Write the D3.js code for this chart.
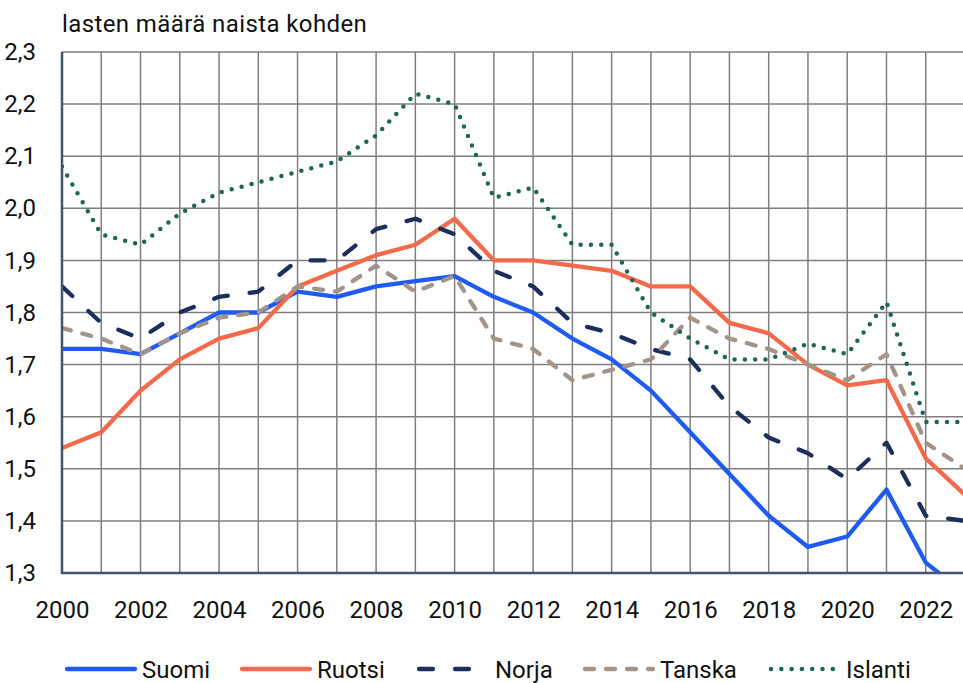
<!DOCTYPE html>
<html>
<head>
<meta charset="utf-8">
<script src="https://cdn.jsdelivr.net/npm/d3@7"></script>
<style>
  html, body { margin: 0; padding: 0; background: #fff; }
  svg { display: block; font-family: Roboto, "Noto Sans", sans-serif; }
</style>
</head>
<body>
<svg id="chart" width="963" height="683"></svg>
<script>
const years = [2000,2001,2002,2003,2004,2005,2006,2007,2008,2009,2010,2011,2012,2013,2014,2015,2016,2017,2018,2019,2020,2021,2022,2023];
const suomi   = [1.73,1.73,1.72,1.76,1.80,1.80,1.84,1.83,1.85,1.86,1.87,1.83,1.80,1.75,1.71,1.65,1.57,1.49,1.41,1.35,1.37,1.46,1.32,1.26];
const ruotsi  = [1.54,1.57,1.65,1.71,1.75,1.77,1.85,1.88,1.91,1.93,1.98,1.90,1.90,1.89,1.88,1.85,1.85,1.78,1.76,1.70,1.66,1.67,1.52,1.45];
const norja   = [1.85,1.78,1.75,1.80,1.83,1.84,1.90,1.90,1.96,1.98,1.95,1.88,1.85,1.78,1.76,1.73,1.71,1.62,1.56,1.53,1.48,1.55,1.41,1.40];
const tanska  = [1.77,1.75,1.72,1.76,1.79,1.80,1.85,1.84,1.89,1.84,1.87,1.75,1.73,1.67,1.69,1.71,1.79,1.75,1.73,1.70,1.67,1.72,1.55,1.50];
const islanti = [2.08,1.95,1.93,1.99,2.03,2.05,2.07,2.09,2.14,2.22,2.20,2.02,2.04,1.93,1.93,1.80,1.75,1.71,1.71,1.74,1.72,1.82,1.59,1.59];
const seriesNames = ["Suomi","Ruotsi","Norja","Tanska","Islanti"];
const xTickYears = [2000,2002,2004,2006,2008,2010,2012,2014,2016,2018,2020,2022];
const yTicks = [1.3,1.4,1.5,1.6,1.7,1.8,1.9,2.0,2.1,2.2,2.3];
const title = "lasten määrä naista kohden";

const styles = {
  "Suomi":   {color:"#1f5af2", dash:null, w:4.3},
  "Ruotsi":  {color:"#f3694c", dash:null, w:4.3},
  "Norja":   {color:"#1b2e5c", dash:"14,22", w:4.3},
  "Tanska":  {color:"#a39489", dash:"9,12", w:4.3},
  "Islanti": {color:"#1e6457", dash:"0,10.3", w:4.5}
};
const data = {"Suomi":suomi,"Ruotsi":ruotsi,"Norja":norja,"Tanska":tanska,"Islanti":islanti};

const svg = d3.select("#chart");
const x = d3.scaleLinear().domain([2000, 2023]).range([62, 965]);
const y = d3.scaleLinear().domain([1.3, 2.3]).range([573, 52]);

// grid
const grid = svg.append("g");
grid.selectAll("line.v").data(years).join("line")
  .attr("x1", d => x(d)).attr("x2", d => x(d))
  .attr("y1", y(2.3)).attr("y2", y(1.3))
  .attr("stroke", "#7f7f7f").attr("stroke-width", 1.5);
grid.selectAll("line.h").data(yTicks).join("line")
  .attr("x1", x(2000)).attr("x2", x(2023))
  .attr("y1", d => y(d)).attr("y2", d => y(d))
  .attr("stroke", "#7f7f7f").attr("stroke-width", 1.5);

// axes
const xAxis = d3.axisBottom(x).tickValues(xTickYears).tickFormat(d3.format("d")).tickSize(0).tickPadding(28);
const gx = svg.append("g").attr("transform", `translate(0,${y(1.3)})`).call(xAxis);
gx.select(".domain").remove();
gx.selectAll("text").attr("font-size", 24).attr("fill", "#111").attr("font-family", "Roboto");

const fmt = d => d3.format(".1f")(d).replace(".", ",");
const yAxis = d3.axisLeft(y).tickValues(yTicks).tickFormat(fmt).tickSize(0).tickPadding(26);
const gy = svg.append("g").attr("transform", `translate(${x(2000)},0)`).call(yAxis);
gy.select(".domain").remove();
gy.selectAll("text").attr("font-size", 24).attr("fill", "#111").attr("font-family", "Roboto");

// clip
svg.append("clipPath").attr("id", "plotclip").append("rect")
  .attr("x", x(2000)).attr("y", y(2.3) - 6).attr("width", x(2023) - x(2000) + 10).attr("height", y(1.3) - y(2.3) + 6);

const line = d3.line().x((d, i) => x(years[i])).y(d => y(d));
const lines = svg.append("g").attr("clip-path", "url(#plotclip)");
seriesNames.forEach(name => {
  const s = styles[name];
  lines.append("path").datum(data[name])
    .attr("d", line)
    .attr("fill", "none")
    .attr("stroke", s.color)
    .attr("stroke-width", s.w)
    .attr("stroke-linejoin", "round")
    .attr("stroke-linecap", s.dash ? "round" : "butt")
    .attr("stroke-dasharray", s.dash);
});

// axis lines
svg.append("line").attr("x1", x(2000)).attr("x2", x(2000)).attr("y1", y(2.3)).attr("y2", y(1.3) + 1)
  .attr("stroke", "#44546a").attr("stroke-width", 2.5);
svg.append("line").attr("x1", x(2000) - 1).attr("x2", 963).attr("y1", y(1.3)).attr("y2", y(1.3))
  .attr("stroke", "#44546a").attr("stroke-width", 2.5);

// title
svg.append("text").attr("x", 62).attr("y", 32).attr("font-size", 24)
  .attr("letter-spacing", 0.4).attr("fill", "#111").text(title);

// legend
const legendX = [65, 240, 417, 583, 769];
const lg = svg.append("g");
seriesNames.forEach((name, i) => {
  const s = styles[name];
  const g = lg.append("g").attr("transform", `translate(${legendX[i]},669)`);
  g.append("line").attr("x1", 2).attr("x2", 70).attr("y1", 0).attr("y2", 0)
    .attr("stroke", s.color).attr("stroke-width", s.w)
    .attr("stroke-linecap", "round")
    .attr("stroke-dasharray", s.dash);
  g.append("text").attr("x", i === 2 ? 78 : 77).attr("y", 8.5).attr("font-size", 24).attr("fill", "#111").text(name);
});
</script>
</body>
</html>
